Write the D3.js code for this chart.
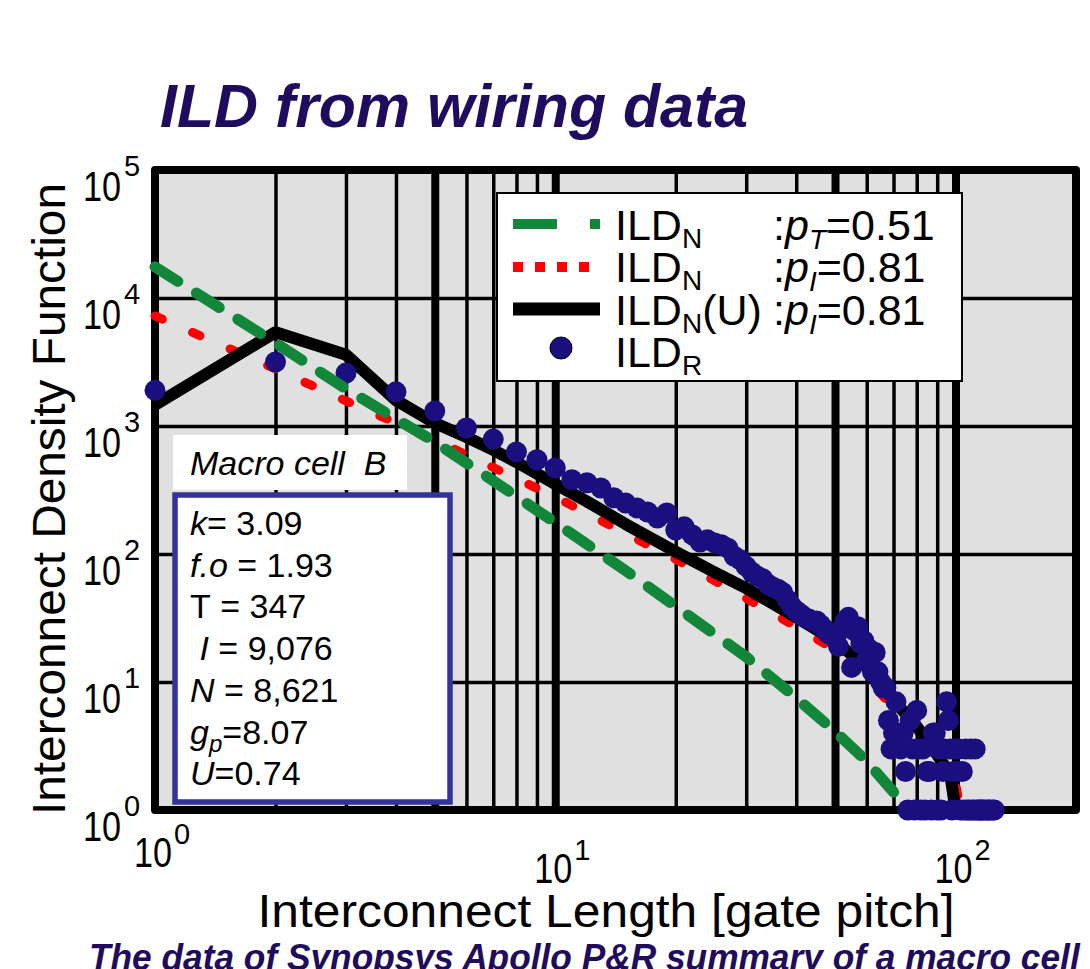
<!DOCTYPE html>
<html>
<head>
<meta charset="utf-8">
<script src="https://cdn.jsdelivr.net/npm/d3@7"></script>
<style>
  body { margin: 0; background: #fff; }
  text { font-family: "Liberation Sans", Arial, Helvetica, sans-serif; }
</style>
</head>
<body>
<svg id="chart" width="1090" height="969"></svg>
<script>
// ---- Data: interconnect length distribution of macro cell B ----
// Measured ILD (counts per interconnect length, gate pitches)
const lengthsR = [1,2,3,4,5,6,7,8,9,10,11,12,13,14,15,16,17,18,19,20,21,22,23,24,25,26,27,28,29,30,
  31,32,33,34,35,36,37,38,39,40,41,42,43,44,45,46,47,48,49,50,51,52,53,54,55,56,57,58,59,60,
  61,62,63,64,65,66,67,68,69,70,71,72,73,74,75,76,77,78,79,80,81,82,83,84,85,86,87,88,89,90,
  91,92,93,94,95,96,97,98,99,100,101,102,103,104,105,106,107,108,109,110,111,112,113,114,115,116,117,118,120,121,122,124,125];
const countsR = [1900,3160,2590,1850,1310,965,790,627,545,470,380,360,328,275,250,229,213,191,209,154,163,141,124,129,122,118,111,96,90,80,
  72,67,64,58,55,53,50,44,39,36,34,32,31,30,30,28,26,24,23,22,19,26,30,32,13,25,27,20,21,15,
  18,12,17,12,10,9,9,5,3,4,7,4,3,4,2,1,5,3,1,6,3,1,3,1,2,2,1,4,4,1,
  3,1,2,3,7,5,3,1,2,3,2,3,1,2,1,3,1,1,3,1,1,3,1,1,1,1,1,1,1,1,1,1,1];

// Model ILD, p_T = 0.51
const lengthsPT = [1,2,3,5,7,10,15,20,30,40,50,60,70,75];
const valuesPT  = [17500,4450,1950,750,373,176,74,39,15.7,7.5,4.1,2.4,1.38,1.04];

// Model ILD, p_I = 0.81
const lengthsPI = [1,2,3,5,7,10,20,30,40,50,60,70,80,90,100,103];
const valuesPI  = [7240,2790,1570,779,474,279,91,45,27,17.8,10.7,6.3,4.3,2.7,1.6,1.0];

// Model ILD with utilisation U, p_I = 0.81
const lengthsPIU = [1,2,3,4,5,6,7,8,10,12,15,20,25,30,40,50,60,70,80,90,97,100];
const valuesPIU  = [1460,5400,3600,1590,1055,820,650,522,352,257,171,104,72,54,32,21,13,7.2,4.5,2.7,1.9,1.0];

// Axis decades and grid positions
const xDecades = [1, 10, 100];
const xExponents = ["0", "1", "2"];
const yDecades = [1, 10, 100, 1000, 10000, 100000];
const yExponents = ["0", "1", "2", "3", "4", "5"];
const xGridThin = [2,3,4,6,7,8,9,20,30,40,60,70,80,90];
const xGridThick = [5,10,50,100];
const yGrid = [10,100,1000,10000];

// Legend entries
const legendNames = ["ILD", "ILD", "ILD", "ILD"];
const legendSubs = ["N", "N", "N", "R"];
const legendParamSub = ["T", "I", "I"];
const legendParamVal = ["=0.51", "=0.81", "=0.81"];

// ---- Drawing ----
const svg = d3.select("#chart");
const plot = { left: 155, right: 1076, top: 170, bottom: 810 };
const x = d3.scaleLog().domain([1, 200]).range([plot.left, plot.right]);
const y = d3.scaleLog().domain([1, 1e5]).range([plot.bottom, plot.top]);
const ink = "#200c5e";

// Title
svg.append("text")
  .attr("x", 160).attr("y", 127)
  .attr("font-size", 62).attr("font-weight", "bold").attr("font-style", "italic")
  .attr("fill", ink)
  .attr("textLength", 588).attr("lengthAdjust", "spacingAndGlyphs")
  .text("ILD from wiring data");

// Plot background
svg.append("rect")
  .attr("x", plot.left).attr("y", plot.top)
  .attr("width", plot.right - plot.left).attr("height", plot.bottom - plot.top)
  .attr("fill", "#e0e0e0");

// Grid lines drawn with axis generators
function vGrid(values, width) {
  svg.append("g")
    .attr("transform", `translate(0,${plot.bottom})`)
    .call(d3.axisBottom(x).tickValues(values).tickSize(-(plot.bottom - plot.top)).tickFormat(""))
    .call(g => g.select(".domain").remove())
    .selectAll("line").attr("stroke", "#000").attr("stroke-width", width);
}
vGrid(xGridThin, 3.5);
vGrid(xGridThick, 8);

svg.append("g")
  .attr("transform", `translate(${plot.left},0)`)
  .call(d3.axisLeft(y).tickValues(yGrid).tickSize(-(plot.right - plot.left)).tickFormat(""))
  .call(g => g.select(".domain").remove())
  .selectAll("line").attr("stroke", "#000").attr("stroke-width", 3.5);

// Frame
svg.append("rect")
  .attr("x", plot.left).attr("y", plot.top)
  .attr("width", plot.right - plot.left).attr("height", plot.bottom - plot.top)
  .attr("fill", "none").attr("stroke", "#000").attr("stroke-width", 8)
  .attr("stroke-linejoin", "round");

// Y tick labels
const yl = svg.append("g");
yl.selectAll("text.base").data(yDecades).join("text")
  .attr("class", "base")
  .attr("x", 121).attr("y", d => y(d) + 31)
  .attr("text-anchor", "end").attr("font-size", 42)
  .attr("textLength", 38).attr("lengthAdjust", "spacingAndGlyphs")
  .text("10");
yl.selectAll("text.exp").data(yDecades).join("text")
  .attr("class", "exp")
  .attr("x", 124).attr("y", d => y(d) + 6)
  .attr("font-size", 29)
  .text((d, i) => yExponents[i]);

// X tick labels
const xl = svg.append("g");
xl.selectAll("text.base").data(xDecades).join("text")
  .attr("class", "base")
  .attr("x", d => x(d) + 17).attr("y", (d, i) => i === 0 ? 867 : 883)
  .attr("text-anchor", "end").attr("font-size", 42)
  .attr("textLength", 38).attr("lengthAdjust", "spacingAndGlyphs")
  .text("10");
xl.selectAll("text.exp").data(xDecades).join("text")
  .attr("class", "exp")
  .attr("x", d => x(d) + 19).attr("y", (d, i) => i === 0 ? 844 : 860)
  .attr("font-size", 29)
  .text((d, i) => xExponents[i]);

// Axis titles
svg.append("text")
  .attr("x", 606).attr("y", 927)
  .attr("text-anchor", "middle").attr("font-size", 46)
  .attr("textLength", 697).attr("lengthAdjust", "spacingAndGlyphs")
  .text("Interconnect Length [gate pitch]");

svg.append("text")
  .attr("transform", "translate(65,499) rotate(-90)")
  .attr("text-anchor", "middle").attr("font-size", 46)
  .attr("textLength", 632).attr("lengthAdjust", "spacingAndGlyphs")
  .text("Interconnect Density Function");

// Legend
const lg = svg.append("g");
lg.append("rect").attr("x", 497).attr("y", 193).attr("width", 465).attr("height", 188)
  .attr("fill", "#fff").attr("stroke", "#000").attr("stroke-width", 2);
const rowY = [240, 282, 325, 367];
lg.append("line").attr("x1", 513).attr("x2", 600).attr("y1", 224).attr("y2", 224)
  .attr("stroke", "#12873a").attr("stroke-width", 10).attr("stroke-dasharray", "44 33");
lg.append("line").attr("x1", 513).attr("x2", 589).attr("y1", 267).attr("y2", 267)
  .attr("stroke", "#ff0000").attr("stroke-width", 10).attr("stroke-dasharray", "10 12");
lg.append("line").attr("x1", 513).attr("x2", 600).attr("y1", 309).attr("y2", 309)
  .attr("stroke", "#000").attr("stroke-width", 13);
lg.append("circle").attr("cx", 561).attr("cy", 348).attr("r", 11)
  .attr("fill", "#1b0f80").attr("stroke", "#000").attr("stroke-width", 1);

legendNames.forEach((name, i) => {
  const t = lg.append("text").attr("x", 615).attr("y", rowY[i]).attr("font-size", 43);
  t.append("tspan").text(name);
  t.append("tspan").attr("x", 682).attr("dy", 8).attr("font-size", 28).text(legendSubs[i]);
  if (i === 2) t.append("tspan").attr("dy", -8).text("(U)");
});
legendParamVal.forEach((val, i) => {
  const t = lg.append("text").attr("x", 773).attr("y", rowY[i]).attr("font-size", 43);
  t.append("tspan").text(":");
  t.append("tspan").attr("font-style", "italic").text("p");
  t.append("tspan").attr("font-style", "italic").attr("font-size", 28).attr("dy", 9).text(legendParamSub[i]);
  t.append("tspan").attr("dy", -9).text(val);
});

// Info panel
svg.append("rect").attr("x", 173).attr("y", 435).attr("width", 234).attr("height", 55).attr("fill", "#fff");
svg.append("text").attr("x", 190).attr("y", 475).attr("font-size", 34).attr("font-style", "italic")
  .text("Macro cell\u00a0\u00a0B");

svg.append("rect").attr("x", 175).attr("y", 495).attr("width", 275).attr("height", 307)
  .attr("fill", "#fff").attr("stroke", "#333399").attr("stroke-width", 5.5);

const infoRows = [
  [["k", true], ["=\u00a03.09", false]],
  [["f.o", true], ["\u00a0=\u00a01.93", false]],
  [["T\u00a0=\u00a0347", false]],
  [["\u00a0", false], ["I", true], ["\u00a0=\u00a09,076", false]],
  [["N", true], ["\u00a0=\u00a08,621", false]],
  [["g", true], ["p", true, "sub"], ["=8.07", false]],
  [["U", true], ["=0.74", false]]
];
infoRows.forEach((parts, i) => {
  const t = svg.append("text").attr("x", 190).attr("y", 535 + i * 41.7)
    .attr("font-size", 34);
  let sub = false;
  parts.forEach(([s, it, kind]) => {
    const ts = t.append("tspan").text(s);
    if (it) ts.attr("font-style", "italic");
    if (kind === "sub") { ts.attr("font-size", 24).attr("dy", 8); sub = true; }
    else if (sub) { ts.attr("dy", -8); sub = false; }
  });
});

// Curves
const line = (ls, vs) => d3.line().x(i => x(ls[i])).y(i => y(vs[i]))(d3.range(ls.length));

svg.append("path").attr("d", line(lengthsPI, valuesPI))
  .attr("fill", "none").attr("stroke", "#ff0000").attr("stroke-width", 9)
  .attr("stroke-linecap", "round").attr("stroke-dasharray", "8 33");

svg.append("path").attr("d", line(lengthsPIU, valuesPIU))
  .attr("fill", "none").attr("stroke", "#000").attr("stroke-width", 12)
  .attr("stroke-linejoin", "round");

svg.append("g").selectAll("circle").data(d3.range(lengthsR.length)).join("circle")
  .attr("cx", i => x(lengthsR[i])).attr("cy", i => y(countsR[i])).attr("r", 10.5)
  .attr("fill", "#1b0f80");

svg.append("path").attr("d", line(lengthsPT, valuesPT))
  .attr("fill", "none").attr("stroke", "#12873a").attr("stroke-width", 11)
  .attr("stroke-linecap", "round").attr("stroke-dasharray", "27 22");

// Caption (runs past the right edge of the page)
svg.append("text")
  .attr("x", 89).attr("y", 970)
  .attr("font-size", 36).attr("font-weight", "bold").attr("font-style", "italic")
  .attr("fill", ink)
  .attr("textLength", 1026).attr("lengthAdjust", "spacingAndGlyphs")
  .text("The data of Synopsys Apollo P&R summary of a macro cell B");
</script>
</body>
</html>
